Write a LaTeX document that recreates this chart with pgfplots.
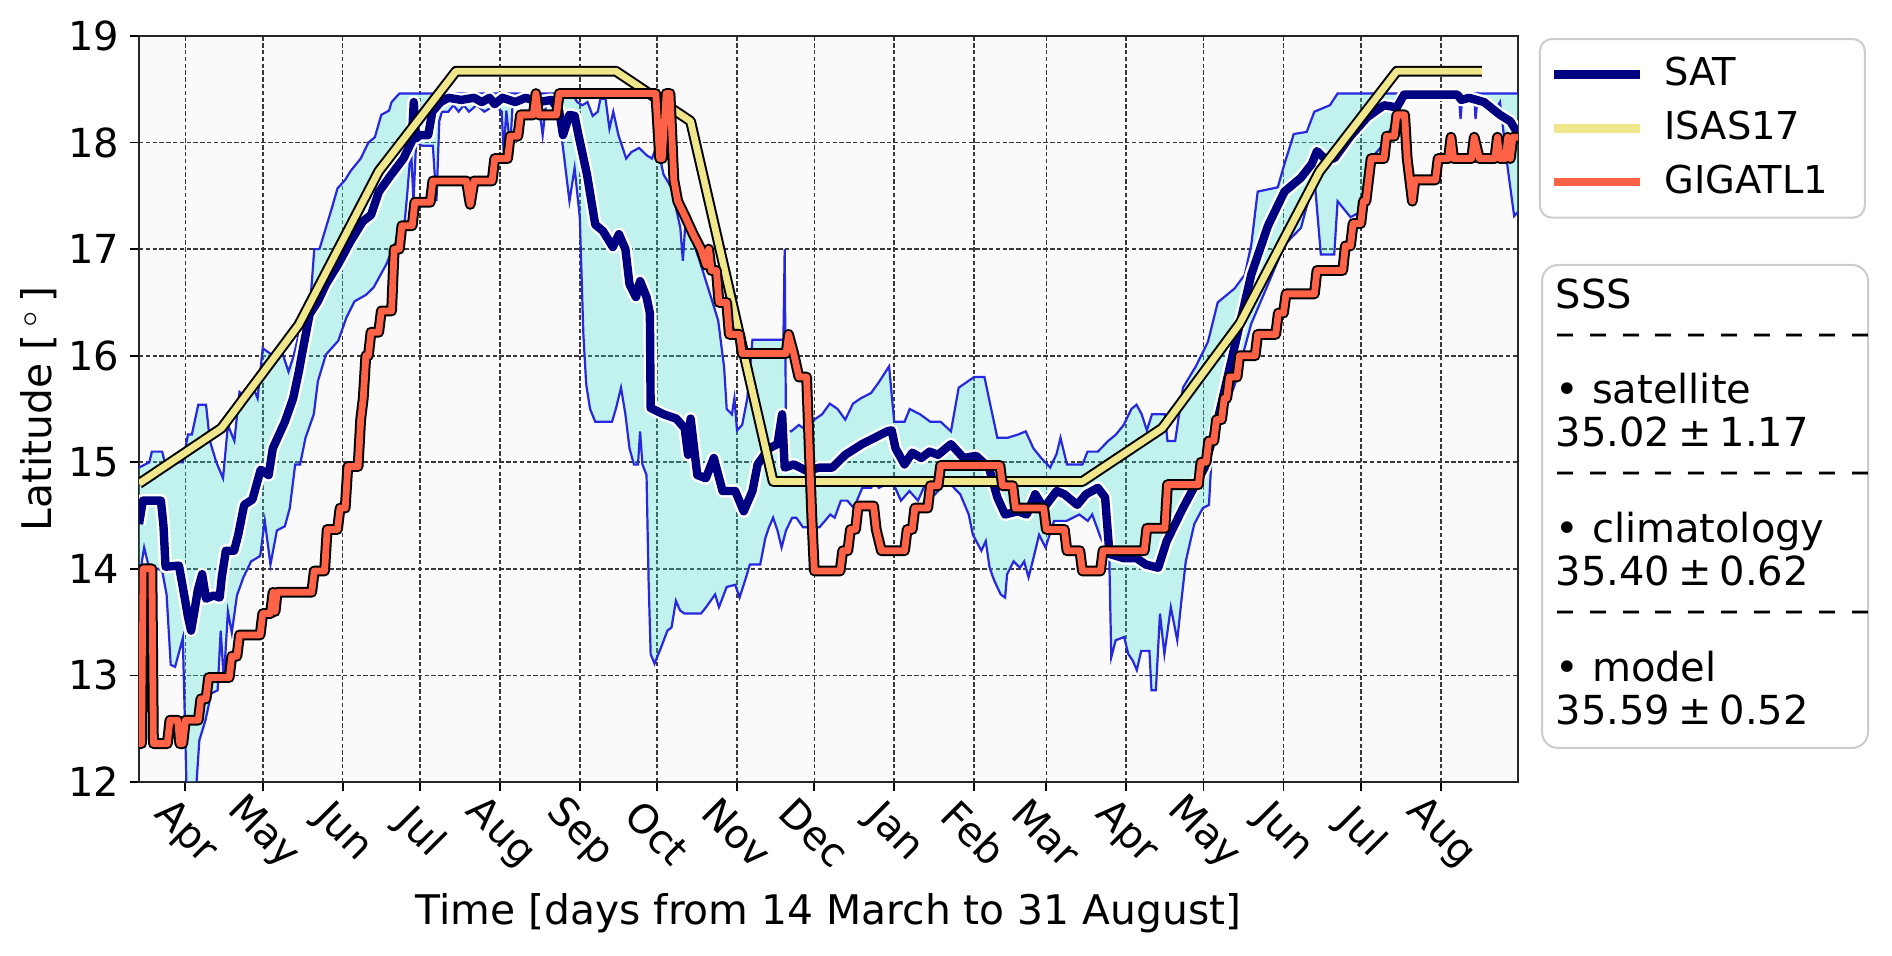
\documentclass[border=0pt]{standalone}
\usepackage{fontspec}
\setmainfont{DejaVu Sans}
\usepackage{pgfplots}
\usepackage{pgfplotstable}
\pgfplotsset{compat=1.18}
\usepgfplotslibrary{fillbetween}
\definecolor{satnavy}{RGB}{0,0,128}
\definecolor{isaskhaki}{RGB}{240,230,140}
\definecolor{gigtomato}{RGB}{255,99,71}
\definecolor{turq}{RGB}{64,224,208}
\definecolor{envblue}{RGB}{40,40,222}
\definecolor{bggray}{RGB}{250,250,250}
\definecolor{legedge}{RGB}{204,204,204}
\newcommand{\legtext}[1]{\fontsize{9.6}{11}\selectfont\makebox[45.6pt][l]{#1}}

% ISAS17 climatology front latitude
\pgfplotstableread{
x y
0 14.80
32 15.32
62 16.29
93 17.73
123 18.67
185 18.67
214 18.20
246 14.82
366 14.82
397 15.32
427 16.30
458 17.73
488 18.67
521 18.67
}\isasdata

% GIGATL1 model front latitude
\pgfplotstableread{
x y
0 12.36
1 12.36
1.6 14.0
5 14.0
5.6 12.36
11 12.36
12 12.58
15 12.58
15.8 12.36
17 12.36
18 12.58
23 12.58
24 12.78
26 12.78
27 12.98
35 12.98
36 13.18
38 13.18
39 13.38
47 13.38
48 13.58
51 13.58
52 13.78
52.8 13.6
53.6 13.78
67 13.78
68 13.98
72 13.98
73 14.37
77 14.37
78 14.57
80 14.57
81 14.96
85 14.96
86 15.4
87 15.6
88 16.0
89 16.0
90 16.22
93 16.22
94 16.42
98 16.42
99 17.0
101 17.0
102 17.22
106 17.22
107 17.44
113 17.44
114 17.64
127 17.64
128.5 17.42
130 17.64
137 17.64
138 17.85
143 17.85
144 18.06
147 18.06
148 18.26
153 18.26
154 18.46
155 18.26
162 18.26
163 18.46
200.5 18.46
202 17.85
203 17.85
204.5 18.46
206 18.46
207.5 17.65
209 17.45
212 17.3
215 17.14
218 17.0
220 16.85
221 17.0
222 16.8
224 16.8
225 16.5
228 16.5
229 16.2
233 16.2
234 16.02
251 16.02
252 16.2
254 16.02
256 15.8
259 15.8
261 14.5
262 13.98
272 13.98
273 14.17
275 14.17
276 14.37
278 14.37
279 14.59
285 14.59
286 14.37
288 14.17
297 14.17
298 14.37
300 14.37
301 14.57
306 14.57
307 14.78
310 14.78
311 14.97
334 14.97
335 14.78
339 14.78
340 14.57
351 14.57
352 14.37
359 14.37
360 14.17
365 14.17
366 13.98
373 13.98
374 14.17
390 14.17
391 14.38
398 14.38
399 14.79
411 14.79
412 15.0
414 15.0
415 15.2
417 15.2
418 15.4
420 15.4
421 15.6
422 15.6
423 15.8
426 15.8
427 16.0
433 16.0
434 16.2
441 16.2
442 16.4
444 16.4
445 16.58
456 16.58
457 16.8
467 16.8
468 17.03
470 17.03
471 17.24
474 17.24
475 17.45
476 17.45
477 17.65
478 17.85
483 17.85
484 18.06
487 18.06
488 18.26
491 18.26
492 17.85
494 17.45
495 17.65
503 17.65
504 17.85
508 17.85
509 18.05
510 17.85
517 17.85
518 18.05
520 17.85
526 17.85
527 18.05
528 17.85
530 17.85
531 18.05
532 17.85
533 18.05
535 18.05
}\gigadata

% SAT front latitude
\pgfplotstableread{
x y
0 14.42
1.5 14.64
8.5 14.64
9.5 14.4
10.3 14.02
15.5 14.03
17.5 13.76
19 13.55
20.2 13.42
21.5 13.6
22.8 13.8
24.5 13.95
26 13.72
29 13.75
31.3 13.73
32.1 13.92
33.7 14.17
36.9 14.17
38.5 14.32
40.8 14.6
44 14.65
47.2 14.93
50.3 14.88
51.9 15.13
56.6 15.38
59.8 15.6
62 15.85
63.5 16.05
66.2 16.39
69.4 16.51
72.5 16.67
77.3 16.86
82 17.07
86.8 17.26
90 17.32
93.1 17.54
97.9 17.7
102.6 17.85
105.8 18.01
106.6 18.38
107.5 18.04
109 18.07
112.2 18.07
113.8 18.29
117 18.38
120 18.42
125 18.4
130 18.42
133 18.38
136 18.42
138 18.36
141 18.42
146 18.38
150 18.42
155 18.38
160 18.4
163 18.3
164.5 18.07
167 18.26
169 18.25
170.5 18.07
173.8 17.7
177 17.23
180 17.17
183.8 17.02
186.2 17.14
188.7 17.0
190.3 16.67
192.8 16.55
194.4 16.7
196.9 16.55
198.2 16.4
198.5 15.51
203.5 15.45
208.4 15.41
211.7 15.32
213 15.07
214 15.41
216.6 14.88
219.9 14.85
223 15.04
226.4 14.73
231.3 14.73
234.6 14.54
238 14.73
240 14.98
244.4 15.13
247.7 15.17
249.5 15.45
250.5 14.95
254 14.98
259 14.92
264 14.95
269 14.95
274 15.07
280.5 15.17
285.4 15.23
290.3 15.29
292 15.3
293.5 15.13
297 14.98
300 15.09
303.5 15.04
306.7 15.1
310 15.07
315 15.17
319.9 15.04
324.8 15.06
329.7 14.95
333 14.67
336 14.51
341 14.54
344.4 14.51
347.7 14.7
351 14.57
356 14.73
359 14.70
364 14.6
367.4 14.7
372 14.76
374.8 14.67
376.5 14.14
382 14.1
387 14.1
390.6 14.04
395.4 14.01
398.7 14.26
405 14.57
413.4 14.95
418.5 15.4
425 16.08
431.5 16.76
438 17.22
444.4 17.54
450.8 17.67
455 17.8
457 17.92
460 17.85
463.7 17.85
470 18.06
476.6 18.24
483 18.35
488 18.33
490.8 18.45
511.5 18.45
513 18.4
516 18.42
521.8 18.38
528 18.26
532 18.2
535 18.08
}\satdata

% upper envelope of satellite ensemble
\pgfplotstableread{
x y
0 14.95
4 15.0
5 15.1
9 15.1
10 15.0
17 15.0
19 15.26
20.5 15.26
23 15.54
26 15.54
27.5 15.2
30 15.0
32.6 14.85
34.5 15.35
37 15.2
39 15.66
42 15.6
44 15.72
46 15.6
48 16.07
52 16.0
55 16.07
58 15.85
60 16.0
63 16.3
66 16.35
68 17.0
70 17.0
72.5 17.2
75 17.4
77 17.57
80 17.65
82 17.73
86 17.85
89 18.0
91.5 18.05
94 18.26
97 18.3
98 18.38
101 18.46
168 18.46
170 18.38
172 18.35
174 18.38
176 18.25
178 18.29
179 18.41
181 18.41
182.5 18.13
184 18.29
186 18.07
189 17.85
191 17.91
194 17.95
197 17.88
199 17.85
201 17.98
203.5 17.7
206.7 17.57
210 17.2
211 16.89
212 17.26
214 17.14
217.5 16.89
221.5 16.58
224.7 16.33
227 15.89
228 15.5
230 15.45
231 15.6
232 15.3
234 15.35
236 15.6
238 16.15
250 16.15
250.5 17.0
251 15.3
253 15.29
256 15.35
259 15.3
262 15.4
265 15.45
268 15.55
271 15.5
274 15.4
277 15.55
280 15.6
284 15.65
287 15.75
291 15.9
293 15.38
297 15.38
299 15.5
303 15.45
307 15.38
311 15.38
315 15.29
318 15.7
321 15.75
324 15.8
328 15.8
330 15.57
333 15.23
337 15.23
341 15.26
344 15.29
347 15.13
350 15.04
353.5 14.95
356 15.08
357.5 15.23
360 14.98
366 14.98
368 15.1
372 15.1
376 15.2
379 15.26
382 15.35
385 15.5
387 15.54
389 15.45
391 15.3
393 15.45
398 15.45
399 15.2
402 15.2
405 15.7
410 15.9
414.7 16.13
418.5 16.5
425 16.63
429 16.76
431.5 17.04
434 17.54
441.8 17.58
444.4 17.8
448 18.08
453 18.1
456 18.29
462 18.35
465 18.46
535 18.46
}\envhidata

% lower envelope of satellite ensemble
\pgfplotstableread{
x y
0 13.9
2 14.2
4 14.0
7.5 14.0
9 13.98
10.7 13.76
12.3 13.1
14 13.08
17 13.35
18.6 11.8
21.8 11.8
23.4 12.39
25.8 12.58
28 12.83
30.5 12.86
31.7 13.42
32.9 12.95
34.5 13.6
36 13.4
38 13.75
40.5 13.92
43.5 14.07
47 14.12
48.8 14.45
51 14.04
53.5 14.36
56.6 14.4
58.5 14.57
60.6 14.98
62.5 14.98
64.6 15.23
67.8 15.45
69.4 15.76
72.5 16.01
77.3 16.14
80.5 16.36
83.6 16.51
88 16.57
91 16.64
96 16.86
99 17.04
102.6 17.13
104 17.5
105.5 17.95
106.5 17.45
107.5 18.0
110 17.97
114 17.97
115.4 17.45
116.5 18.2
117.5 18.29
120 18.29
122 18.35
124 18.29
126 18.35
128 18.29
131 18.35
134 18.29
138 18.35
140.7 18.29
141.5 17.9
142.5 18.3
144 17.95
145 18.38
155 18.38
156.6 18.07
158 18.38
162 18.38
164.5 17.95
167 17.45
169 17.76
171 17.3
172.4 16.2
173.5 15.73
175 15.5
177 15.38
183.5 15.38
185 15.5
187 15.7
188.7 15.45
190.3 15.13
192 14.98
193.6 14.98
194.4 15.29
195.3 14.98
196.9 14.88
197.7 13.89
198.5 13.2
200 13.11
202.5 13.26
205 13.42
206.6 13.45
208.3 13.7
209.9 13.61
211.6 13.58
218 13.58
220 13.64
223.5 13.76
225 13.64
228 13.83
231.3 13.85
233 13.73
235.5 13.92
237 14.04
241 14.04
243 14.29
244.4 14.39
246 14.48
247.7 14.36
249.3 14.2
251 14.36
253.4 14.48
255 14.48
257.6 14.39
264 14.39
268.2 14.51
269.9 14.48
272.3 14.64
274.8 14.64
277.3 14.57
280.6 14.76
284 14.76
285.5 14.82
287 14.76
292.3 14.82
295.6 14.64
298.9 14.73
302.2 14.64
305.5 14.82
308.8 14.7
313.7 14.82
318.6 14.7
321.9 14.51
323.5 14.32
326.8 14.17
328.5 14.26
330 14.01
331.8 13.89
334.3 13.76
336 13.73
336.8 13.95
339.3 14.07
341.8 14.01
343.4 14.07
345.1 13.92
346.7 14.07
349.2 14.32
351.7 14.2
355 14.45
359.9 14.45
364.8 14.51
368.1 14.45
369.8 14.51
373.1 14.29
376.4 14.14
377.2 13.17
378.9 13.33
382.2 13.36
383.8 13.2
385.5 13.14
387.1 13.05
388.8 13.23
392 13.23
392.8 12.86
394.5 12.86
396.1 13.58
397.8 13.2
400.3 13.64
402.8 13.33
404.4 13.7
406.1 14.07
409.4 14.42
412.7 14.57
415.1 14.6
416 15.0
418.5 15.3
425 15.72
431.5 16.3
438 16.67
444.4 17.04
450.8 17.2
456 17.67
458.5 16.95
463.7 16.95
465 17.45
470 17.3
474 17.35
478 17.85
483 17.99
489.5 18.35
491 18.46
512 18.46
512.7 18.22
513.5 18.46
518 18.46
518.5 18.22
519.5 18.46
523 18.4
526 18.3
528 18.38
531 17.76
533.5 17.31
535 17.35
}\envlodata

\begin{document}
\begin{tikzpicture}
\begin{axis}[
  name=ax, at={(0,0)}, anchor=south west,
  scale only axis, width=344.75pt, height=186.5pt,
  xmin=0, xmax=535, ymin=12, ymax=19,
  set layers,
  axis background/.style={fill=bggray},
  grid=major,
  major grid style={black!78, line width=0.4pt, dash pattern=on 1.1pt off 0.6pt},
  xtick={18,48,79,109,140,171,201,232,262,293,324,352,383,413,444,474,505},
  xticklabels={Apr,May,Jun,Jul,Aug,Sep,Oct,Nov,Dec,Jan,Feb,Mar,Apr,May,Jun,Jul,Aug},
  ytick={12,13,...,19},
  tick align=outside, xtick pos=bottom, ytick pos=left,
  major tick length=2.25pt,
  tick style={black, line width=0.45pt},
  axis line style={black!85, line width=0.45pt},
  tick label style={font=\fontsize{10}{12}\selectfont},
  /pgf/number format/assume math mode=true,
  xticklabel style={yshift=-10.5pt, rotate=-45, anchor=center},
  yticklabel style={inner xsep=2.5pt},
  xlabel={Time [days from 14 March to 31 August]},
  ylabel={Latitude [\,$^\circ$\,]},
  label style={font=\fontsize{10.2}{12}\selectfont},
  xlabel style={at={(axis description cs:0.5,-0.1756)}, anchor=center},
  ylabel style={at={(axis description cs:-0.0725,0.5)}, anchor=center},
  legend style={at={(axis description cs:1.0152,0.9973)}, anchor=north west,
    draw=legedge, line width=0.5pt, rounded corners=3pt, fill=white,
    inner xsep=2.5pt, inner ysep=2.6pt,
    row sep=0.8pt, /tikz/every odd column/.append style={column sep=3pt}},
  legend cell align=left,
  legend image code/.code={\draw[#1, line width=2.1pt] (0pt,0pt) -- (21.5pt,0pt);},
]
\addplot[name path=envhi, envblue, line width=0.55pt, forget plot] table {\envhidata};
\addplot[name path=envlo, envblue, line width=0.55pt, forget plot] table {\envlodata};
\addplot[turq, fill opacity=0.3, draw=none, forget plot] fill between[of=envhi and envlo];

\addplot[white, line width=3.3pt, line join=round, forget plot] table {\satdata};
\addplot[satnavy, line width=2.1pt, line join=round] table {\satdata};
\addlegendentry{\legtext{SAT}}

\addplot[black, line width=2.7pt, line join=round, forget plot] table {\isasdata};
\addplot[isaskhaki, line width=1.7pt, line join=round] table {\isasdata};
\addlegendentry{\legtext{ISAS17}}

\addplot[black, line width=2.7pt, line join=round, forget plot] table {\gigadata};
\addplot[gigtomato, line width=1.7pt, line join=round] table {\gigadata};
\addlegendentry{\legtext{GIGATL1}}
\end{axis}

\draw[legedge, line width=0.5pt, rounded corners=4pt, fill=white]
  ([shift={(350.75pt,8.5pt)}]ax.south west) rectangle ([shift={(432.25pt,129.25pt)}]ax.south west);
\node[anchor=north west, align=left, inner sep=0pt, font=\fontsize{10}{10.75}\selectfont]
  at ([shift={(354pt,126pt)}]ax.south west)
  {SSS\\[-1.25pt]
   – – – – – – – – – –\\[3.5pt]
   •\ satellite\\
   35.02\kern0.2em±\kern0.2em1.17\\[-1.25pt]
   – – – – – – – – – –\\[3.75pt]
   •\ climatology\\
   35.40\kern0.2em±\kern0.2em0.62\\[-1.25pt]
   – – – – – – – – – –\\[3.75pt]
   •\ model\\
   35.59\kern0.2em±\kern0.2em0.52};

\pgfresetboundingbox
\path[use as bounding box] ([shift={(-34.75pt,-43.5pt)}]ax.south west) rectangle ([shift={(93.5pt,9pt)}]ax.north east);
\end{tikzpicture}
\end{document}
